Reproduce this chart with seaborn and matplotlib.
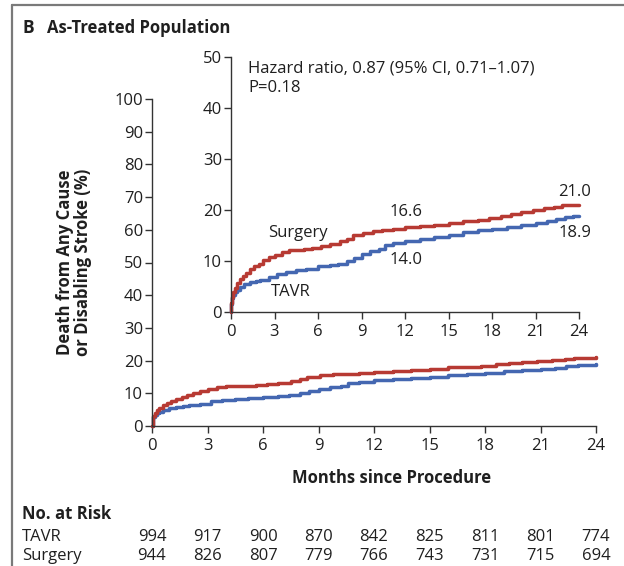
import matplotlib
matplotlib.use("Agg")
import matplotlib.pyplot as plt
from matplotlib.lines import Line2D
import matplotlib.transforms as mtransforms
import pandas as pd
import seaborn as sns

# Cumulative incidence of death from any cause or disabling stroke (%)
surgery_months = [0, 0.03, 0.08, 0.15, 0.25, 0.4, 0.6, 0.8, 1.0, 1.3, 1.6, 1.9, 2.2, 2.6,
                  3.0, 3.5, 4.0, 5.0, 5.6, 6.2, 6.8, 7.5, 8.0, 8.4, 9.1, 9.8, 10.4, 11.2,
                  12.0, 13.0, 14.0, 15.0, 16.0, 17.0, 17.8, 18.6, 19.3, 20.0, 20.8, 21.6,
                  22.3, 22.8, 24.0]
surgery_pct = [0, 1.8, 3.0, 4.0, 4.8, 5.6, 6.5, 7.1, 7.7, 8.4, 9.0, 9.5, 10.1, 10.7,
               11.2, 11.8, 12.1, 12.3, 12.6, 12.9, 13.3, 13.9, 14.4, 15.1, 15.5, 15.8, 16.0,
               16.3, 16.6, 16.8, 17.1, 17.5, 17.9, 18.1, 18.4, 18.9, 19.3, 19.7, 20.0, 20.3,
               20.6, 20.9, 21.0]

tavr_months = [0, 0.03, 0.08, 0.15, 0.25, 0.4, 0.6, 0.9, 1.3, 1.7, 2.0, 2.6, 3.2, 3.8,
               4.5, 5.2, 6.0, 6.8, 7.4, 8.0, 8.5, 9.0, 9.6, 10.2, 10.6, 11.2, 12.0, 13.0,
               14.0, 15.0, 16.0, 17.0, 18.0, 19.0, 20.0, 21.0, 21.8, 22.4, 23.0, 23.6, 24.0]
tavr_pct = [0, 1.6, 2.7, 3.4, 3.9, 4.4, 4.9, 5.4, 5.9, 6.1, 6.3, 6.8, 7.5, 7.9,
            8.2, 8.5, 9.0, 9.3, 9.5, 10.0, 10.6, 11.4, 11.9, 12.3, 13.1, 13.6, 14.0, 14.4,
            14.7, 15.1, 15.6, 16.0, 16.3, 16.7, 17.1, 17.4, 17.8, 18.2, 18.6, 18.8, 18.9]

risk_months = [0, 3, 6, 9, 12, 15, 18, 21, 24]
tavr_at_risk = [994, 917, 900, 870, 842, 825, 811, 801, 774]
surgery_at_risk = [944, 826, 807, 779, 766, 743, 731, 715, 694]

# Point estimates annotated on the inset
surgery_12, tavr_12 = 16.6, 14.0
surgery_24, tavr_24 = 21.0, 18.9

sns.set_theme(style="ticks")
plt.rcParams["font.family"] = ["Open Sans", "DejaVu Sans"]

RED = "#b73a33"
BLUE = "#4467b1"
TXT = "#1f1f1f"
FS = 12

df = pd.concat([
    pd.DataFrame({"month": tavr_months, "pct": tavr_pct, "group": "TAVR"}),
    pd.DataFrame({"month": surgery_months, "pct": surgery_pct, "group": "Surgery"}),
], ignore_index=True)
palette = {"TAVR": BLUE, "Surgery": RED}

W, H = 624, 566
fig = plt.figure(figsize=(W / 100, H / 100), dpi=100)


def px_axes(left, top, right, bottom):
    return fig.add_axes([left / W, 1 - bottom / H, (right - left) / W, (bottom - top) / H])


def style_axes(ax, ymax, ystep):
    ax.set_xlim(0, 24)
    ax.set_ylim(0, ymax)
    ax.set_xticks(risk_months)
    ax.set_yticks(range(0, ymax + 1, ystep))
    sns.despine(ax=ax)
    for s in ("left", "bottom"):
        ax.spines[s].set_color("#333333")
        ax.spines[s].set_linewidth(1.0)
    ax.tick_params(length=5, width=1.0, color="#333333", labelsize=FS,
                   labelcolor=TXT)
    ax.tick_params(axis="y", pad=1.5)
    ax.tick_params(axis="x", pad=4)
    ax.set_xlabel("")
    ax.set_ylabel("")
    ax.patch.set_alpha(0)
    for sp in ax.spines.values():
        sp.set_clip_on(False)


def draw_curves(ax):
    sns.lineplot(data=df, x="month", y="pct", hue="group", palette=palette,
                 estimator=None, sort=False, drawstyle="steps-post",
                 linewidth=2.5, legend=False, ax=ax, clip_on=False)


# Main panel (0-100%)
ax = px_axes(152, 99, 596, 426)
draw_curves(ax)
style_axes(ax, 100, 10)

# Inset (0-50%)
axi = px_axes(231, 57, 579, 312)
draw_curves(axi)
style_axes(axi, 50, 10)

axi.text(1.2, 47.8, "Hazard ratio, 0.87 (95% CI, 0.71\u20131.07)", fontsize=FS,
         color=TXT, ha="left", va="center")
axi.text(1.2, 43.9, "P=0.18", fontsize=FS, color=TXT, ha="left", va="center")
axi.text(4.6, 15.5, "Surgery", fontsize=FS, color=TXT, ha="center", va="center")
axi.text(4.1, 3.9, "TAVR", fontsize=FS, color=TXT, ha="center", va="center")
axi.text(12.1, surgery_12 + 3.0, f"{surgery_12:.1f}", fontsize=FS, color=TXT,
         ha="center", va="center")
axi.text(12.1, tavr_12 - 3.8, f"{tavr_12:.1f}", fontsize=FS, color=TXT,
         ha="center", va="center")
axi.text(23.7, surgery_24 + 2.5, f"{surgery_24:.1f}", fontsize=FS, color=TXT,
         ha="center", va="center")
axi.text(23.7, tavr_24 - 3.4, f"{tavr_24:.1f}", fontsize=FS, color=TXT,
         ha="center", va="center")

# Titles and axis labels
fig.text(22 / W, 1 - 28 / H, "B", fontsize=12.5, fontweight="bold", color=TXT,
         ha="left", va="center")
fig.text(47 / W, 1 - 28 / H, "As-Treated Population", fontsize=12,
         fontweight="bold", color=TXT, ha="left", va="center")
fig.text(74 / W, 1 - 262 / H, "Death from Any Cause\nor Disabling Stroke (%)",
         fontsize=12, fontweight="bold", color=TXT, rotation=90,
         ha="center", va="center", linespacing=1.0)
fig.text(392 / W, 1 - 478 / H, "Months since Procedure", fontsize=12,
         fontweight="bold", color=TXT, ha="center", va="center")

# Number at risk table
fig.text(22 / W, 1 - 514 / H, "No. at Risk", fontsize=12, fontweight="bold",
         color=TXT, ha="left", va="center")
fig.text(22 / W, 1 - 537 / H, "TAVR", fontsize=FS, color=TXT, ha="left", va="center")
fig.text(22 / W, 1 - 556 / H, "Surgery", fontsize=FS, color=TXT, ha="left", va="center")
trans = mtransforms.blended_transform_factory(ax.transData, fig.transFigure)
for m, a, b in zip(risk_months, tavr_at_risk, surgery_at_risk):
    ax.text(m, 1 - 537 / H, str(a), transform=trans, fontsize=FS, color=TXT,
            ha="center", va="center", clip_on=False)
    ax.text(m, 1 - 556 / H, str(b), transform=trans, fontsize=FS, color=TXT,
            ha="center", va="center", clip_on=False)

# Panel frame (top and left edges)
fig.add_artist(Line2D([12 / W, 12 / W], [0, 1 - 5 / H], transform=fig.transFigure,
                      color="#7a7a7a", linewidth=1.6))
fig.add_artist(Line2D([12 / W, 1], [1 - 5 / H, 1 - 5 / H], transform=fig.transFigure,
                      color="#7a7a7a", linewidth=1.6))

fig.savefig("out.png", dpi=100, facecolor="white")
